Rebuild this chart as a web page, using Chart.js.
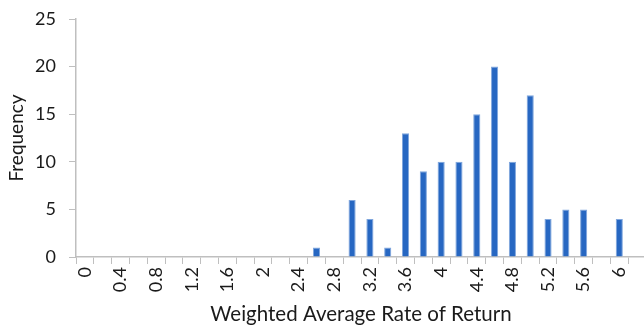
<!DOCTYPE html>
<html><head><meta charset="utf-8">
<script src="https://cdn.jsdelivr.net/npm/chart.js@4.4.0/dist/chart.umd.min.js"></script>
<style>
html,body{margin:0;padding:0;background:#fff;overflow:hidden;width:644px;height:329px;}
#wrap{position:absolute;left:0;top:0;width:662px;height:329px;}
</style></head><body>
<div id="wrap"><canvas id="c" width="662" height="329"></canvas></div>
<script>
const categories = ["0","0.2","0.4","0.6","0.8","1","1.2","1.4","1.6","1.8","2","2.2","2.4","2.6","2.8","3","3.2","3.4","3.6","3.8","4","4.2","4.4","4.6","4.8","5","5.2","5.4","5.6","5.8","6","6.2"];
const frequency = [0,0,0,0,0,0,0,0,0,0,0,0,0,1,0,6,4,1,13,9,10,10,15,20,10,17,4,5,5,0,4,0];
const yTicks = [0,5,10,15,20,25];
const fontFam = "Lato, 'Open Sans', sans-serif";
const txt = '#1a1a1a';
const axisCol = '#bfbfbf';
new Chart(document.getElementById('c'), {
  type: 'bar',
  data: { labels: categories, datasets: [{ data: frequency, backgroundColor: '#2767c2', borderColor: '#7fa6dd', borderWidth: 1, barPercentage: 0.4, categoryPercentage: 1 }] },
  options: {
    responsive: false, animation: false,
    layout: { padding: { top: 19, right: 16, left: 5, bottom: 0 } },
    plugins: { legend: { display: false }, tooltip: { enabled: false } },
    scales: {
      x: {
        afterFit: function(s) { s.height = 72; },
        grid: { display: true, drawOnChartArea: false, drawTicks: true, tickLength: 7, color: axisCol, offset: true },
        border: { color: axisCol, width: 1.5 },
        ticks: { autoSkip: false, maxRotation: 90, minRotation: 90, color: txt, font: { family: fontFam, size: 18 }, padding: 3,
          callback: function(v, i) { return (i % 2 === 0 && i < 31) ? categories[i] : ''; } },
        title: { display: true, text: 'Weighted Average Rate of Return', color: txt, font: { family: fontFam, size: 20.5 }, padding: { top: 0, bottom: 2 } }
      },
      y: {
        min: 0, max: 25,
        afterFit: function(s) { s.width = 71; s.paddingTop = 0; s.paddingBottom = 0; },
        afterBuildTicks: function(ax) { ax.ticks = yTicks.map(v => ({ value: v })); },
        grid: { display: true, drawOnChartArea: false, tickLength: 7, color: axisCol },
        border: { color: axisCol, width: 1.5 },
        ticks: { color: txt, font: { family: fontFam, size: 18 }, padding: 13 },
        title: { display: true, text: 'Frequency', color: txt, font: { family: fontFam, size: 19 }, padding: { top: 0, bottom: 0 } }
      }
    }
  }
});
</script>
</body></html>
